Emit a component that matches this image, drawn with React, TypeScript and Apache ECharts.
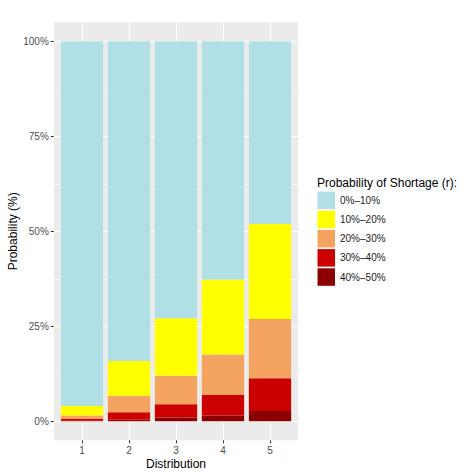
import { useEffect, useRef } from 'react';
import * as echarts from 'echarts';

// distributions on the x axis
const categories = ['1', '2', '3', '4', '5'];

// segment heights (%) per distribution, bottom to top
const band40to50 = [0.15, 0.5, 1.0, 1.5, 2.7];
const band30to40 = [0.45, 1.9, 3.5, 5.4, 8.6];
const band20to30 = [0.9, 4.3, 7.5, 10.7, 15.6];
const band10to20 = [2.5, 9.2, 15.1, 19.7, 25.0];
const band0to10 = [96.0, 84.1, 72.9, 62.7, 48.1];

const legendLabels = ['0%–10%', '10%–20%', '20%–30%', '30%–40%', '40%–50%'];
const legendColors = ['#B0E0E6', '#FFFF00', '#F4A460', '#CD0000', '#8B0000'];

const FONT = 'Liberation Sans, Arial, Helvetica, sans-serif';

// panel box, ggplot-style (discrete axis expanded by 0.6, continuous by 5%)
const PANEL = { left: 53.8, top: 22.3, width: 244.4, height: 418 };

export default function App() {
  const chartRef = useRef<HTMLDivElement>(null);

  useEffect(() => {
    document.body.style.margin = '0';
    if (!chartRef.current) return;
    const chart = echarts.init(chartRef.current, undefined, { renderer: 'svg' });

    const unit = PANEL.width / 5.2;
    const y0 = PANEL.top + (105 / 110) * PANEL.height;
    const y100 = PANEL.top + (5 / 110) * PANEL.height;

    // stacking order: bottom first
    const stacks = [
      { name: legendLabels[4], data: band40to50, color: legendColors[4] },
      { name: legendLabels[3], data: band30to40, color: legendColors[3] },
      { name: legendLabels[2], data: band20to30, color: legendColors[2] },
      { name: legendLabels[1], data: band10to20, color: legendColors[1] },
      { name: legendLabels[0], data: band0to10, color: legendColors[0] },
    ];

    chart.setOption({
      animation: false,
      backgroundColor: '#FFFFFF',
      textStyle: { fontFamily: FONT },
      grid: [
        // y grid lines + labels
        { left: PANEL.left, top: y100, width: PANEL.width, height: y0 - y100 },
        // x grid lines + labels
        { left: PANEL.left + 0.6 * unit, top: PANEL.top, width: 4 * unit, height: PANEL.height },
        // bars
        { left: PANEL.left + 0.1 * unit, top: PANEL.top, width: 5 * unit, height: PANEL.height },
      ],
      xAxis: [
        { gridIndex: 0, type: 'category', data: categories, show: false },
        {
          gridIndex: 1,
          type: 'value',
          min: 1,
          max: 5,
          interval: 1,
          axisLine: { show: false },
          axisTick: { show: true, length: 3, lineStyle: { color: '#333333', width: 1 } },
          axisLabel: { color: '#4D4D4D', fontSize: 10, margin: 5, fontFamily: FONT },
          splitLine: { show: true, lineStyle: { color: '#FFFFFF', width: 1.1 } },
        },
        { gridIndex: 2, type: 'category', data: categories, show: false },
      ],
      yAxis: [
        {
          gridIndex: 0,
          type: 'value',
          min: 0,
          max: 100,
          interval: 25,
          axisLine: { show: false },
          axisTick: { show: true, length: 3, lineStyle: { color: '#333333', width: 1 } },
          axisLabel: { color: '#4D4D4D', fontSize: 10, margin: 5, formatter: '{value}%', fontFamily: FONT },
          splitLine: { show: true, lineStyle: { color: '#FFFFFF', width: 1.1 } },
          minorTick: { show: false, splitNumber: 2 },
          minorSplitLine: { show: true, lineStyle: { color: '#FFFFFF', width: 0.55 } },
        },
        { gridIndex: 1, type: 'value', min: 0, max: 1, show: false },
        { gridIndex: 2, type: 'value', min: -5, max: 105, show: false },
      ],
      legend: {
        orient: 'vertical',
        left: 317.5,
        top: 191.5,
        padding: 0,
        itemWidth: 17.5,
        itemHeight: 17.5,
        itemGap: 1.7,
        icon: 'rect',
        data: legendLabels,
        textStyle: { color: '#1A1A1A', fontSize: 10, fontFamily: FONT },
        itemStyle: { borderWidth: 0 },
      },
      graphic: [
        {
          type: 'rect',
          z: -10,
          silent: true,
          shape: { x: PANEL.left, y: PANEL.top, width: PANEL.width, height: PANEL.height },
          style: { fill: '#EBEBEB' },
        },
        {
          type: 'text',
          x: 13,
          y: PANEL.top + PANEL.height / 2,
          rotation: Math.PI / 2,
          style: {
            text: 'Probability (%)',
            fill: '#000000',
            font: `12px ${FONT}`,
            align: 'center',
            verticalAlign: 'middle',
          },
        },
        {
          type: 'text',
          x: PANEL.left + PANEL.width / 2,
          y: 464,
          style: {
            text: 'Distribution',
            fill: '#000000',
            font: `12px ${FONT}`,
            align: 'center',
            verticalAlign: 'middle',
          },
        },
        {
          type: 'text',
          x: 317,
          y: 183,
          style: {
            text: 'Probability of Shortage (r):',
            fill: '#000000',
            font: `12px ${FONT}`,
            align: 'left',
            verticalAlign: 'middle',
          },
        },
      ],
      series: stacks.map((s) => ({
        name: s.name,
        type: 'bar',
        stack: 'total',
        xAxisIndex: 2,
        yAxisIndex: 2,
        barWidth: '90%',
        itemStyle: { color: s.color },
        data: s.data,
      })),
    });

    return () => chart.dispose();
  }, []);

  return <div ref={chartRef} style={{ width: 474, height: 474 }} />;
}
